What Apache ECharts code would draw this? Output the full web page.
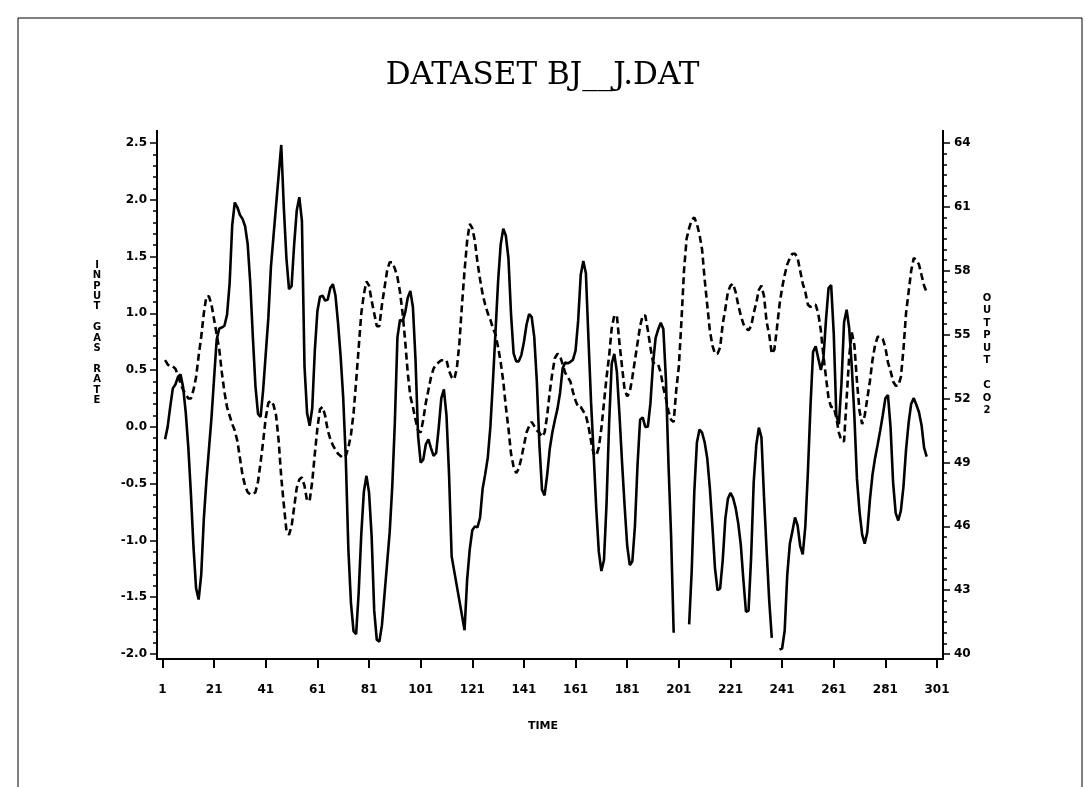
<!DOCTYPE html>
<html lang="en" style="height: 100%">
<head>
  <meta charset="utf-8">
</head>
<body style="height: 100%; margin: 0; background: #fff">
  <div id="container" style="width: 1085px; height: 787px"></div>

  <script type="text/javascript" src="https://cdn.jsdelivr.net/npm/echarts@6/dist/echarts.min.js"></script>

  <script type="text/javascript">
    // values; first point sits at TIME = 2
    var timeStart = 2;

    var gasRate = [
      -0.109, 0.000, 0.178, 0.339, 0.373, 0.441, 0.461, 0.348, 0.127, -0.180,
      -0.588, -1.055, -1.421, -1.520, -1.302, -0.814, -0.475, -0.193, 0.088, 0.435,
      0.771, 0.866, 0.875, 0.891, 0.987, 1.263, 1.775, 1.976, 1.934, 1.866,
      1.832, 1.767, 1.608, 1.265, 0.790, 0.360, 0.115, 0.088, 0.331, 0.645,
      0.960, 1.409, 1.68, 1.95, 2.22, 2.483, 1.929, 1.485, 1.214, 1.239,
      1.608, 1.905, 2.023, 1.815, 0.535, 0.122, 0.009, 0.164, 0.671, 1.019,
      1.146, 1.155, 1.112, 1.121, 1.223, 1.257, 1.157, 0.913, 0.620, 0.255,
      -0.280, -1.080, -1.551, -1.799, -1.825, -1.456, -0.944, -0.570, -0.431, -0.577,
      -0.960, -1.616, -1.875, -1.891, -1.746, -1.474, -1.201, -0.927, -0.524, 0.040,
      0.788, 0.943, 0.930, 1.006, 1.137, 1.198, 1.054, 0.595, -0.080, -0.314,
      -0.288, -0.153, -0.109, -0.187, -0.255, -0.229, -0.007, 0.254, 0.330, 0.102,
      -0.423, -1.139, -1.27, -1.40, -1.53, -1.66, -1.790, -1.346, -1.081, -0.910,
      -0.876, -0.885, -0.800, -0.544, -0.416, -0.271, 0.000, 0.403, 0.841, 1.285,
      1.607, 1.746, 1.683, 1.485, 0.993, 0.648, 0.577, 0.577, 0.632, 0.747,
      0.900, 0.993, 0.968, 0.790, 0.399, -0.161, -0.553, -0.603, -0.424, -0.194,
      -0.049, 0.060, 0.161, 0.301, 0.517, 0.566, 0.560, 0.573, 0.592, 0.671,
      0.933, 1.337, 1.460, 1.353, 0.772, 0.218, -0.237, -0.714, -1.099, -1.269,
      -1.175, -0.676, 0.033, 0.556, 0.643, 0.484, 0.109, -0.310, -0.697, -1.047,
      -1.218, -1.183, -0.873, -0.336, 0.063, 0.084, 0.000, 0.001, 0.209, 0.556,
      0.782, 0.858, 0.918, 0.862, 0.416, -0.336, -0.959, -1.813, null, null,
      null, null, null, -1.739, -1.261, -0.569, -0.137, -0.024, -0.050, -0.135,
      -0.276, -0.534, -0.871, -1.243, -1.439, -1.422, -1.175, -0.813, -0.634, -0.582,
      -0.625, -0.713, -0.848, -1.039, -1.346, -1.628, -1.619, -1.149, -0.488, -0.160,
      -0.007, -0.092, -0.620, -1.086, -1.525, -1.858, null, null, -1.961, -1.952,
      -1.794, -1.302, -1.030, -0.918, -0.798, -0.867, -1.047, -1.123, -0.876, -0.395,
      0.185, 0.662, 0.709, 0.605, 0.501, 0.603, 0.943, 1.223, 1.249, 0.824,
      0.102, 0.025, 0.382, 0.922, 1.032, 0.866, 0.527, 0.093, -0.458, -0.748,
      -0.947, -1.029, -0.928, -0.645, -0.424, -0.276, -0.158, -0.033, 0.102, 0.251,
      0.280, 0.000, -0.493, -0.759, -0.824, -0.740, -0.528, -0.204, 0.034, 0.204,
      0.253, 0.195, 0.131, 0.017, -0.182, -0.262
    ];

    var co2 = [
      53.8, 53.6, 53.5, 53.5, 53.4, 53.1, 52.7, 52.4, 52.2, 52.0,
      52.0, 52.4, 53.0, 54.0, 54.9, 56.0, 56.8, 56.8, 56.4, 55.7,
      55.0, 54.3, 53.2, 52.3, 51.6, 51.2, 50.8, 50.5, 50.0, 49.2,
      48.4, 47.9, 47.6, 47.5, 47.5, 47.6, 48.1, 49.0, 50.0, 51.1,
      51.8, 51.9, 51.7, 51.2, 50.0, 48.3, 47.0, 45.8, 45.6, 46.0,
      46.9, 47.8, 48.2, 48.3, 47.9, 47.2, 47.2, 48.1, 49.4, 50.6,
      51.5, 51.6, 51.2, 50.5, 50.1, 49.8, 49.6, 49.4, 49.3, 49.2,
      49.3, 49.7, 50.3, 51.3, 52.8, 54.4, 56.0, 56.9, 57.5, 57.3,
      56.6, 56.0, 55.4, 55.4, 56.4, 57.2, 58.0, 58.4, 58.4, 58.1,
      57.7, 57.0, 56.0, 54.7, 53.2, 52.1, 51.6, 51.0, 50.5, 50.4,
      51.0, 51.8, 52.4, 53.0, 53.4, 53.6, 53.7, 53.8, 53.8, 53.8,
      53.3, 53.0, 52.9, 53.4, 54.6, 56.4, 58.0, 59.4, 60.2, 60.0,
      59.4, 58.4, 57.6, 56.9, 56.4, 56.0, 55.7, 55.3, 55.0, 54.4,
      53.7, 52.8, 51.6, 50.6, 49.4, 48.8, 48.5, 48.7, 49.2, 49.8,
      50.4, 50.7, 50.9, 50.7, 50.5, 50.4, 50.2, 50.4, 51.2, 52.3,
      53.2, 53.9, 54.1, 54.0, 53.6, 53.2, 53.0, 52.8, 52.3, 51.9,
      51.6, 51.6, 51.4, 51.2, 50.7, 50.0, 49.4, 49.3, 49.7, 50.6,
      51.8, 53.0, 54.0, 55.3, 55.9, 55.9, 54.6, 53.5, 52.4, 52.1,
      52.3, 53.0, 53.8, 54.6, 55.4, 55.9, 55.9, 55.2, 54.4, 53.7,
      53.6, 53.6, 53.2, 52.5, 52.0, 51.4, 51.0, 50.9, 52.4, 53.5,
      55.6, 58.0, 59.5, 60.0, 60.4, 60.5, 60.2, 59.7, 59.0, 57.6,
      56.4, 55.2, 54.5, 54.1, 54.1, 54.4, 55.5, 56.2, 57.0, 57.3,
      57.4, 57.0, 56.4, 55.9, 55.5, 55.3, 55.2, 55.4, 56.0, 56.5,
      57.1, 57.3, 56.8, 55.6, 55.0, 54.1, 54.3, 55.3, 56.4, 57.2,
      57.8, 58.3, 58.6, 58.8, 58.8, 58.6, 58.0, 57.4, 57.0, 56.4,
      56.3, 56.4, 56.4, 56.0, 55.2, 54.0, 53.0, 52.0, 51.6, 51.6,
      51.1, 50.4, 50.0, 50.0, 52.0, 54.0, 55.1, 54.5, 52.8, 51.4,
      50.8, 51.2, 52.0, 52.8, 53.8, 54.5, 54.9, 54.9, 54.8, 54.4,
      53.7, 53.3, 52.8, 52.6, 52.6, 53.0, 54.3, 56.0, 57.0, 58.0,
      58.6, 58.5, 58.3, 57.8, 57.3, 57.0
    ];

    var timeAxis = { min: 1, max: 301, interval: 20 };
    var gasAxis = { min: -2, max: 2.5, interval: 0.5 };
    var co2Axis = { min: 40, max: 64, interval: 3 };

    var dom = document.getElementById('container');
    var myChart = echarts.init(dom, null, { renderer: 'canvas' });

    var labelFont = {
      color: '#000',
      fontFamily: 'DejaVu Sans',
      fontWeight: 'bold',
      fontSize: 12
    };

    var option = {
      backgroundColor: '#fff',
      animation: false,
      title: {
        text: 'DATASET BJ__J.DAT',
        left: 'center',
        top: 55,
        textStyle: {
          fontFamily: 'DejaVu Serif',
          fontWeight: 'normal',
          fontSize: 31,
          color: '#000'
        }
      },
      grid: { left: 162.5, right: 148, top: 143, bottom: 133 },
      xAxis: {
        type: 'value',
        min: timeAxis.min,
        max: timeAxis.max,
        interval: timeAxis.interval,
        offset: 5,
        axisLine: { show: false, onZero: false },
        axisTick: { show: true, inside: false, length: 9, lineStyle: { color: '#000', width: 2 } },
        splitLine: { show: false },
        axisLabel: Object.assign({ margin: 25 }, labelFont)
      },
      yAxis: [
        {
          type: 'value',
          position: 'left',
          min: gasAxis.min,
          max: gasAxis.max,
          interval: gasAxis.interval,
          offset: 5.5,
          axisLine: { show: false, onZero: false },
          axisTick: { show: true, length: 7, lineStyle: { color: '#000', width: 1.5 } },
          minorTick: { show: true, splitNumber: 5, length: 4, lineStyle: { color: '#000', width: 1.5 } },
          splitLine: { show: false },
          axisLabel: Object.assign({ margin: 10, formatter: function (v) { return v.toFixed(1); } }, labelFont)
        },
        {
          type: 'value',
          position: 'right',
          min: co2Axis.min,
          max: co2Axis.max,
          interval: co2Axis.interval,
          offset: 6,
          axisLine: { show: false, onZero: false },
          axisTick: { show: true, length: 7, lineStyle: { color: '#000', width: 1.5 } },
          minorTick: { show: true, splitNumber: 6, length: 4, lineStyle: { color: '#000', width: 1.5 } },
          splitLine: { show: false },
          axisLabel: Object.assign({ margin: 11 }, labelFont)
        }
      ],
      series: [
        {
          name: 'INPUT GAS RATE',
          type: 'line',
          yAxisIndex: 0,
          showSymbol: false,
          connectNulls: false,
          lineStyle: { color: '#000', width: 2.6, type: 'solid' },
          data: gasRate.map(function (v, i) { return [timeStart + i, v]; })
        },
        {
          name: 'OUTPUT CO2',
          type: 'line',
          yAxisIndex: 1,
          showSymbol: false,
          lineStyle: { color: '#000', width: 2.6, type: [7, 4] },
          data: co2.map(function (v, i) { return [timeStart + i, v]; })
        }
      ],
      graphic: [
        // page frame
        { type: 'rect', shape: { x: 18, y: 18, width: 1064, height: 800 }, style: { fill: null, stroke: '#000', lineWidth: 1 } },
        // axis frame: left, bottom, right
        { type: 'polyline', shape: { points: [[157, 130], [157, 659], [943, 659], [943, 130]] }, style: { fill: null, stroke: '#000', lineWidth: 2 } },
        {
          type: 'text', x: 97, y: 260,
          style: { text: 'I\nN\nP\nU\nT\n \nG\nA\nS\n \nR\nA\nT\nE', fill: '#000', font: 'bold 10px "DejaVu Sans"', align: 'center', lineHeight: 10.4 }
        },
        {
          type: 'text', x: 987, y: 292,
          style: { text: 'O\nU\nT\nP\nU\nT\n \nC\nO\n2', fill: '#000', font: 'bold 10px "DejaVu Sans"', align: 'center', lineHeight: 12.5 }
        },
        {
          type: 'text', x: 543, y: 721,
          style: { text: 'TIME', fill: '#000', font: 'bold 11px "DejaVu Sans"', align: 'center' }
        }
      ]
    };

    myChart.setOption(option);

    window.addEventListener('resize', myChart.resize);
  </script>
</body>
</html>
